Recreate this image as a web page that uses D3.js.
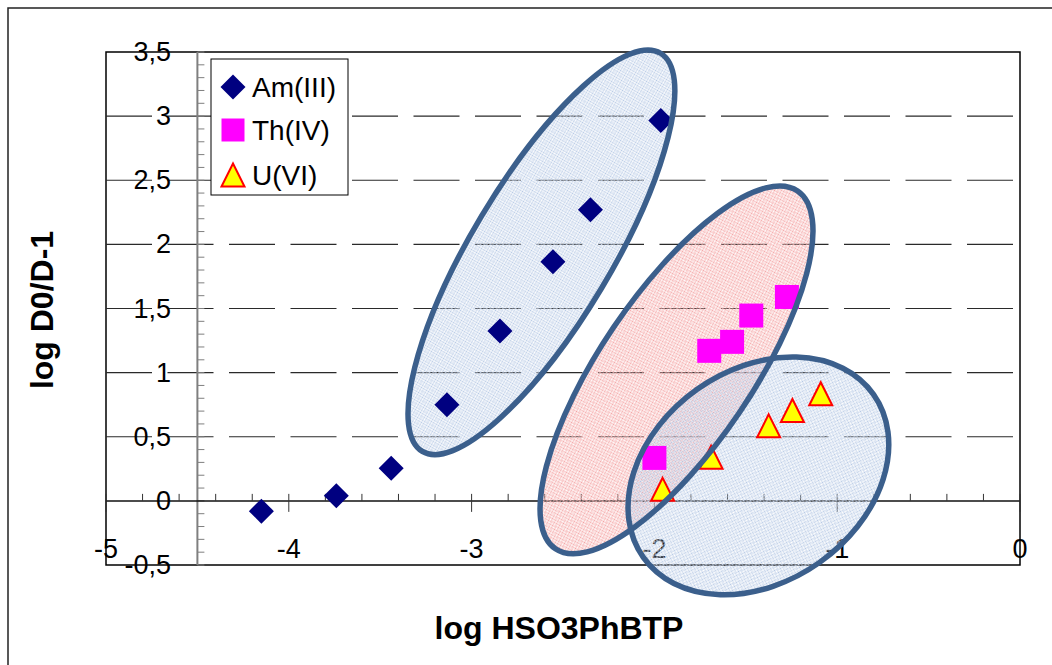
<!DOCTYPE html>
<html>
<head>
<meta charset="utf-8">
<script src="https://cdn.jsdelivr.net/npm/d3@7"></script>
<style>
  html, body { margin: 0; padding: 0; background: #fff; }
  svg { display: block; font-family: "Liberation Sans", Arial, sans-serif; }
</style>
</head>
<body>
<svg id="chart" width="1052" height="665"></svg>
<script>
// Series: log HSO3PhBTP (x) vs log D0/D-1 (y)
const amX = [-4.15, -3.74, -3.44, -3.135, -2.845, -2.555, -2.35, -1.965];
const amY = [-0.08, 0.04, 0.255, 0.75, 1.325, 1.865, 2.27, 2.965];

const thX = [-2.0, -1.70, -1.575, -1.47, -1.275];
const thY = [0.335, 1.17, 1.24, 1.445, 1.59];

const uX = [-1.955, -1.69, -1.375, -1.245, -1.09];
const uY = [0.09, 0.34, 0.585, 0.705, 0.835];

const seriesNames = ["Am(III)", "Th(IV)", "U(VI)"];

const xTicks = [-5, -4, -3, -2, -1, 0];
const yTicks = [-0.5, 0, 0.5, 1, 1.5, 2, 2.5, 3, 3.5];

// Group outlines: centre in data units
const groupCx = [-2.618, -1.879, -1.431];
const groupCy = [1.938, 1.021, 0.195];

// ---- layout ----
const svg = d3.select("#chart");
const plot = { left: 106, top: 52, right: 1020, bottom: 565 };
const x = d3.scaleLinear().domain([-5, 0]).range([plot.left, plot.right]);
const y = d3.scaleLinear().domain([-0.5, 3.5]).range([plot.bottom, plot.top]);
const yAxisAt = -4.5;
const fmt = v => String(v).replace(".", ",");

// outline geometry (pixels): semi-axes and tilt
const groupShape = [
  { rx: 232, ry: 70, tilt: -59.1, fill: "url(#dotBlue)" },
  { rx: 216, ry: 76, tilt: -55.9, fill: "url(#dotPink)" },
  { rx: 141, ry: 106, tilt: -35.3, fill: "url(#dotBlue)" }
];

// dotted fills
const defs = svg.append("defs");
const pBlue = defs.append("pattern").attr("id", "dotBlue")
  .attr("patternUnits", "userSpaceOnUse").attr("width", 2).attr("height", 2);
pBlue.append("rect").attr("x", 0).attr("y", 0).attr("width", 1).attr("height", 1).attr("fill", "#b3c7e4");
pBlue.append("rect").attr("x", 1).attr("y", 1).attr("width", 1).attr("height", 1).attr("fill", "#d6e0f0");
const pPink = defs.append("pattern").attr("id", "dotPink")
  .attr("patternUnits", "userSpaceOnUse").attr("width", 2).attr("height", 2);
pPink.append("rect").attr("x", 1).attr("y", 0).attr("width", 1).attr("height", 1).attr("fill", "#f4a0a0");
pPink.append("rect").attr("x", 0).attr("y", 1).attr("width", 1).attr("height", 1).attr("fill", "#f8c8c8");
defs.selectAll("rect").attr("shape-rendering", "crispEdges");

// outer chart border (top and left visible)
svg.append("path").attr("d", "M8,665 L8,8 L1052,8")
  .attr("fill", "none").attr("stroke", "#222").attr("stroke-width", 1.5);

// plot frame
svg.append("rect")
  .attr("x", plot.left).attr("y", plot.top)
  .attr("width", plot.right - plot.left).attr("height", plot.bottom - plot.top)
  .attr("fill", "#fff").attr("stroke", "#000").attr("stroke-width", 1.5);

// dashed horizontal gridlines
svg.append("g").selectAll("line")
  .data(yTicks.filter(v => v > 0 && v < 3.5))
  .join("line")
  .attr("x1", plot.left).attr("x2", plot.right)
  .attr("y1", d => y(d)).attr("y2", d => y(d))
  .attr("stroke", "#2a2a2a").attr("stroke-width", 1.2)
  .attr("stroke-dasharray", "46,15.5");

// y axis (vertical line at x = -4.5) with minor ticks every 0.1
const yAxisX = x(yAxisAt);
svg.append("line")
  .attr("x1", yAxisX).attr("x2", yAxisX).attr("y1", plot.top).attr("y2", plot.bottom)
  .attr("stroke", "#7f7f7f").attr("stroke-width", 2);
svg.append("g").selectAll("line")
  .data(d3.range(-5, 36).map(v => v / 10))
  .join("line")
  .attr("x1", yAxisX).attr("x2", yAxisX + 7)
  .attr("y1", d => y(d)).attr("y2", d => y(d))
  .attr("stroke", "#7f7f7f").attr("stroke-width", 1);

// x axis at y = 0
const xAxisY = y(0);
svg.append("line")
  .attr("x1", plot.left).attr("x2", plot.right).attr("y1", xAxisY).attr("y2", xAxisY)
  .attr("stroke", "#111").attr("stroke-width", 1.5);
svg.append("g").selectAll("line")
  .data(d3.range(-25, 1).map(v => v / 5))
  .join("line")
  .attr("x1", d => x(d)).attr("x2", d => x(d))
  .attr("y1", xAxisY - 7)
  .attr("y2", d => Number.isInteger(d) ? xAxisY + 11 : xAxisY)
  .attr("stroke", "#333").attr("stroke-width", 1);

// tick labels
svg.append("g").selectAll("text")
  .data(yTicks)
  .join("text")
  .attr("x", 171).attr("y", d => y(d))
  .attr("text-anchor", "end").attr("dominant-baseline", "central")
  .attr("font-size", 27).attr("fill", "#000")
  .text(fmt);
svg.append("g").selectAll("text")
  .data(xTicks)
  .join("text")
  .attr("x", d => x(d)).attr("y", xAxisY + 48)
  .attr("text-anchor", "middle").attr("dominant-baseline", "central")
  .attr("font-size", 27).attr("fill", "#000")
  .text(fmt);

// axis titles
svg.append("text")
  .attr("x", 559).attr("y", 628)
  .attr("text-anchor", "middle").attr("dominant-baseline", "central")
  .attr("font-size", 32).attr("font-weight", "bold")
  .text("log HSO3PhBTP");
svg.append("text")
  .attr("transform", "translate(42,310) rotate(-90)")
  .attr("text-anchor", "middle").attr("dominant-baseline", "central")
  .attr("font-size", 32).attr("font-weight", "bold")
  .text("log D0/D-1");

// group outline fills
svg.append("g").selectAll("ellipse")
  .data(groupShape)
  .join("ellipse")
  .attr("transform", (d, i) => `translate(${x(groupCx[i])},${y(groupCy[i])}) rotate(${d.tilt})`)
  .attr("rx", d => d.rx).attr("ry", d => d.ry)
  .attr("fill", d => d.fill).attr("stroke", "none");

// markers
const diamond = (cx, cy, r) => `M${cx},${cy - r}L${cx + r},${cy}L${cx},${cy + r}L${cx - r},${cy}Z`;
const square = (cx, cy, r) => `M${cx - r},${cy - r}h${2 * r}v${2 * r}h${-2 * r}Z`;
const triangle = (cx, cy, r) => `M${cx},${cy - r}L${cx + r},${cy + r}L${cx - r},${cy + r}Z`;

const marks = svg.append("g");
marks.selectAll("path.am")
  .data(amX.map((v, i) => [v, amY[i]]))
  .join("path").attr("class", "am")
  .attr("d", d => diamond(x(d[0]), y(d[1]), 12.5))
  .attr("fill", "#000080");
marks.selectAll("path.th")
  .data(thX.map((v, i) => [v, thY[i]]))
  .join("path").attr("class", "th")
  .attr("d", d => square(x(d[0]), y(d[1]), 12))
  .attr("fill", "#ff00ff");
marks.selectAll("path.u")
  .data(uX.map((v, i) => [v, uY[i]]))
  .join("path").attr("class", "u")
  .attr("d", d => triangle(x(d[0]), y(d[1]), 11.5))
  .attr("fill", "#ffff00").attr("stroke", "#ff0000").attr("stroke-width", 2)
  .attr("stroke-linejoin", "miter");

// group outline strokes
svg.append("g").selectAll("ellipse")
  .data(groupShape)
  .join("ellipse")
  .attr("transform", (d, i) => `translate(${x(groupCx[i])},${y(groupCy[i])}) rotate(${d.tilt})`)
  .attr("rx", d => d.rx).attr("ry", d => d.ry)
  .attr("fill", "none").attr("stroke", "#3b5f8c").attr("stroke-width", 5.5);

// legend
const legend = svg.append("g").attr("transform", "translate(211,59)");
legend.append("rect").attr("width", 137).attr("height", 136)
  .attr("fill", "#fff").attr("stroke", "#000").attr("stroke-width", 1);
const legRows = [28, 71, 116];
const legMark = [
  (cy) => diamond(22, cy, 12.5),
  (cy) => square(22, cy, 11.5),
  (cy) => triangle(22, cy, 11.5)
];
const legFill = ["#000080", "#ff00ff", "#ffff00"];
seriesNames.forEach((name, i) => {
  const p = legend.append("path").attr("d", legMark[i](legRows[i])).attr("fill", legFill[i]);
  if (i === 2) p.attr("stroke", "#ff0000").attr("stroke-width", 2);
  legend.append("text")
    .attr("x", 41).attr("y", legRows[i])
    .attr("dominant-baseline", "central")
    .attr("font-size", 28).attr("fill", "#000")
    .text(name);
});
</script>
</body>
</html>
